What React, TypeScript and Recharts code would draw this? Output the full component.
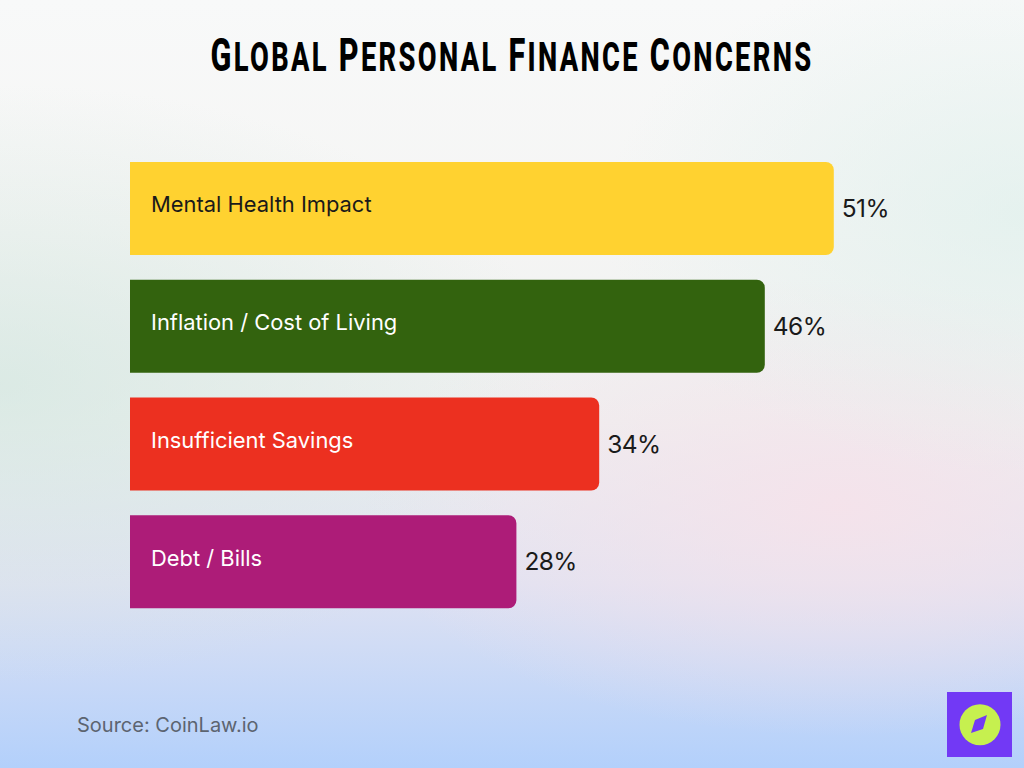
import React from "react";
import { BarChart, Bar, Cell, XAxis, YAxis, LabelList } from "recharts";

const categories = ["Mental Health Impact", "Inflation / Cost of Living", "Insufficient Savings", "Debt / Bills"];
const shares = [51, 46, 34, 28];
const barColors = ["#ffd230", "#33630e", "#ec3020", "#ad1c78"];
const nameColors = ["#1a1a1a", "#ffffff", "#ffffff", "#ffffff"];
const titleWords = ["Global", "Personal", "Finance", "Concerns"];

const data = categories.map((name, i) => ({ name, share: shares[i] }));

const background = [
  "radial-gradient(ellipse 420px 260px at 100% 28%, rgba(222,240,236,0.7), rgba(222,240,236,0) 100%)",
  "radial-gradient(ellipse 560px 300px at 0% 50%, rgba(208,230,222,0.65), rgba(208,230,222,0) 100%)",
  "radial-gradient(ellipse 480px 230px at 82% 66%, rgba(246,226,234,0.9), rgba(246,226,234,0) 100%)",
  "linear-gradient(180deg, #f8f9f9 0%, #f5f5f4 30%, #eef0f0 55%, #dfe2f2 76%, #b3d0fb 100%)",
].join(", ");

const NameLabel = (props: any) => {
  const { x, y, height, index } = props;
  return (
    <text x={x + 21} y={y + height / 2 - 2} dominantBaseline="middle" fill={nameColors[index]}
      fontFamily="Inter" fontSize={21.9}>
      {categories[index]}
    </text>
  );
};

const ValueLabel = (props: any) => {
  const { x, y, width, height, value } = props;
  return (
    <text x={x + width + 8} y={y + height / 2 + 2} dominantBaseline="middle" fill="#1a1a1a"
      fontFamily="Inter" fontSize={24.5} letterSpacing={-0.6}>
      {value}%
    </text>
  );
};

export default function App() {
  return (
    <div style={{ position: "absolute", left: 0, top: 0, width: 1024, height: 768, overflow: "hidden", background }}>
      <div style={{
        position: "absolute", left: 0, top: 27, width: 1024, textAlign: "center", color: "#000",
        fontFamily: "Roboto", fontWeight: 800, fontSize: 46, lineHeight: "56px", whiteSpace: "nowrap",
        letterSpacing: 3.5, transform: "scaleX(0.665)",
      }}>
        {titleWords.map((word, i) => (
          <span key={word}>
            {i > 0 ? " " : ""}
            {word[0]}
            <span style={{ fontSize: 41, textTransform: "uppercase" }}>{word.slice(1)}</span>
          </span>
        ))}
      </div>

      <div style={{ position: "absolute", left: 0, top: 150 }}>
        <BarChart layout="vertical" width={1024} height={471} data={data}
          margin={{ top: 0, right: 66, bottom: 0, left: 130 }}>
          <XAxis type="number" dataKey="share" domain={[0, 60]} hide />
          <YAxis type="category" dataKey="name" hide />
          <Bar dataKey="share" barSize={93} radius={[0, 8, 8, 0]} isAnimationActive={false}>
            {data.map((d, i) => <Cell key={d.name} fill={barColors[i]} />)}
            <LabelList dataKey="share" content={<NameLabel />} />
            <LabelList dataKey="share" content={<ValueLabel />} />
          </Bar>
        </BarChart>
      </div>

      <div style={{ position: "absolute", left: 77, top: 712, fontFamily: "Inter", fontSize: 20, lineHeight: "26px", color: "#5c6470" }}>
        Source: CoinLaw.io
      </div>

      <svg style={{ position: "absolute", left: 947, top: 692 }} width={65} height={65} viewBox="0 0 65 65">
        <rect width={65} height={65} fill="#7239f5" />
        <circle cx={33} cy={32.7} r={20.5} fill="#c6f04f" />
        <path d="M40 23 L36 37 L24 41 L28 28 Z" fill="#7239f5" />
      </svg>
    </div>
  );
}
